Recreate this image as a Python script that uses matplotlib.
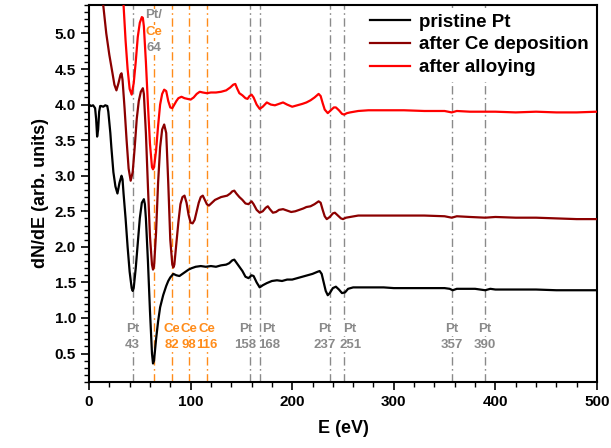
import matplotlib
matplotlib.use("Agg")
import matplotlib.pyplot as plt
from matplotlib.ticker import MultipleLocator, FormatStrFormatter
import matplotlib.transforms as mtransforms

plt.rcParams['font.family'] = ['Liberation Sans', 'DejaVu Sans']
plt.rcParams['font.weight'] = 'bold'

# ---------------- data ----------------
pristine_E = [0, 2, 4, 6, 7, 8, 9, 10, 11, 12, 14, 16, 18, 19, 20, 21, 22, 24, 26, 28, 30, 32, 33, 34, 36,
              38, 40, 42, 43, 44, 46, 48, 50, 52, 54, 55, 56, 58, 60, 62, 63, 64, 66, 68, 70, 73, 76, 78,
              80, 83, 86, 89, 92, 95, 98, 101, 105, 110, 115, 120, 125, 130, 135, 138, 141, 143, 145, 148,
              151, 154, 157, 160, 162, 165, 168, 171, 175, 180, 185, 190, 195, 200, 205, 210, 215, 220,
              225, 227, 229, 231, 233, 235, 237, 240, 243, 246, 249, 252, 255, 260, 270, 280, 290, 300,
              320, 340, 350, 355, 358, 362, 370, 380, 390, 395, 400, 420, 440, 460, 480, 500]
pristine_I = [4.0, 3.98, 3.99, 3.95, 3.8, 3.55, 3.65, 3.9, 3.98, 3.98, 3.97, 3.99, 3.98, 3.9, 3.75, 3.6,
              3.4, 3.05, 2.85, 2.75, 2.9, 3.0, 2.95, 2.75, 2.4, 2.0, 1.65, 1.42, 1.38, 1.42, 1.7, 2.05,
              2.4, 2.62, 2.67, 2.6, 2.4, 1.8, 1.1, 0.5, 0.36, 0.4, 0.7, 0.95, 1.15, 1.32, 1.45, 1.52,
              1.57, 1.62, 1.6, 1.59, 1.62, 1.65, 1.68, 1.7, 1.72, 1.73, 1.72, 1.73, 1.72, 1.74, 1.75,
              1.77, 1.81, 1.82, 1.78, 1.72, 1.66, 1.58, 1.56, 1.6, 1.59, 1.5, 1.43, 1.46, 1.49, 1.52,
              1.53, 1.52, 1.54, 1.54, 1.56, 1.58, 1.6, 1.62, 1.65, 1.66, 1.62, 1.5, 1.38, 1.32, 1.35,
              1.42, 1.44, 1.4, 1.35, 1.36, 1.41, 1.43, 1.43, 1.43, 1.43, 1.42, 1.42, 1.42, 1.42, 1.41,
              1.39, 1.41, 1.41, 1.41, 1.39, 1.41, 1.40, 1.40, 1.40, 1.39, 1.39, 1.39]

ce_dep_E = [8, 12, 14, 17, 20, 23, 25, 27, 29, 31, 32, 33, 35, 37, 39, 41, 43, 45, 47, 49, 51, 53, 54, 56,
            58, 60, 62, 63, 64, 66, 68, 70, 72, 74, 76, 78, 80, 82, 83, 84, 86, 88, 90, 92, 94, 96, 98,
            100, 102, 104, 106, 108, 110, 112, 114, 116, 118, 121, 124, 127, 130, 133, 136, 139, 141,
            143, 145, 148, 151, 154, 157, 160, 162, 165, 168, 171, 174, 176, 178, 181, 184, 187, 191,
            195, 199, 203, 207, 211, 214, 218, 222, 226, 228, 230, 232, 234, 237, 240, 242, 245, 248,
            250, 253, 257, 265, 275, 290, 310, 330, 350, 357, 362, 375, 390, 400, 420, 440, 460, 480, 500]
ce_dep_I = [6.2, 5.7, 5.4, 5.0, 4.7, 4.45, 4.28, 4.2, 4.3, 4.42, 4.44, 4.35, 3.95, 3.5, 3.1, 2.93, 3.05,
            3.4, 3.8, 4.05, 4.18, 4.23, 4.15, 3.6, 2.85, 2.15, 1.75, 1.68, 1.72, 2.2, 2.9, 3.4, 3.65,
            3.72, 3.6, 2.9, 2.1, 1.75, 1.71, 1.75, 2.05, 2.35, 2.6, 2.7, 2.72, 2.62, 2.45, 2.34, 2.33,
            2.38, 2.5, 2.62, 2.7, 2.72, 2.66, 2.6, 2.58, 2.62, 2.66, 2.68, 2.7, 2.71, 2.72, 2.75, 2.78,
            2.79, 2.75, 2.7, 2.66, 2.61, 2.6, 2.64, 2.6, 2.52, 2.48, 2.5, 2.55, 2.57, 2.53, 2.48, 2.49,
            2.52, 2.53, 2.51, 2.49, 2.5, 2.52, 2.54, 2.56, 2.57, 2.6, 2.64, 2.62, 2.52, 2.43, 2.39,
            2.42, 2.47, 2.48, 2.44, 2.4, 2.39, 2.41, 2.42, 2.44, 2.44, 2.44, 2.44, 2.44, 2.43, 2.41,
            2.43, 2.42, 2.41, 2.42, 2.41, 2.41, 2.40, 2.39, 2.39]

alloy_E = [28, 32, 34, 36, 38, 40, 42, 44, 46, 48, 50, 52, 53, 54, 56, 58, 60, 62, 63, 64, 66, 68, 70, 72,
           74, 76, 78, 80, 82, 84, 86, 88, 91, 94, 97, 100, 103, 106, 109, 112, 116, 120, 125, 130, 135,
           139, 142, 144, 146, 148, 151, 154, 156, 158, 160, 162, 165, 168, 171, 175, 179, 183, 187,
           191, 195, 200, 205, 210, 214, 218, 222, 226, 228, 230, 232, 235, 238, 241, 243, 246, 249,
           251, 254, 257, 265, 275, 290, 310, 330, 350, 357, 362, 375, 390, 400, 420, 440, 460, 480, 500]
alloy_I = [6.5, 5.8, 5.4, 4.9, 4.5, 4.22, 4.14, 4.3, 4.6, 4.95, 5.15, 5.23, 5.22, 5.1, 4.6, 4.0, 3.45,
           3.12, 3.09, 3.12, 3.35, 3.7, 4.0, 4.15, 4.21, 4.19, 4.05, 3.96, 3.95, 4.0, 4.05, 4.09, 4.11,
           4.09, 4.08, 4.07, 4.1, 4.15, 4.18, 4.17, 4.16, 4.17, 4.17, 4.18, 4.2, 4.24, 4.28, 4.29,
           4.22, 4.16, 4.13, 4.09, 4.08, 4.12, 4.14, 4.1, 4.0, 3.94, 3.97, 4.03, 4.0, 3.99, 4.01, 4.03,
           4.0, 3.97, 3.99, 4.01, 4.03, 4.06, 4.1, 4.15, 4.12, 4.02, 3.93, 3.88, 3.92, 3.96, 3.96,
           3.92, 3.87, 3.86, 3.88, 3.89, 3.91, 3.92, 3.92, 3.92, 3.91, 3.91, 3.89, 3.91, 3.9, 3.9,
           3.9, 3.89, 3.9, 3.89, 3.89, 3.9]

series_labels = ["pristine Pt", "after Ce deposition", "after alloying"]
series_colors = ["#000000", "#8B0000", "#FF0000"]

pt_lines = [43, 158, 168, 237, 251, 357, 390]
pt_label_x = [43, 154, 177, 232, 257, 357, 390]
ce_lines = [82, 98, 116]
ptce_line = 64

# ---------------- figure ----------------
fig = plt.figure(figsize=(6.11, 4.48), dpi=100)
ax = fig.add_axes([89 / 611, 1 - 382 / 448, (597 - 89) / 611, (382 - 5) / 448])

GRAY = "#8a8a8a"
ORANGE = "#FF8C1A"
dash = (0, (6, 2.5, 1.2, 2.5))

for e in pt_lines:
    ax.axvline(e, color=GRAY, lw=1.0, ls=dash, zorder=1)
for e in ce_lines:
    ax.axvline(e, color=ORANGE, lw=1.0, ls=dash, zorder=1)
ax.axvline(ptce_line, color=ORANGE, lw=1.0, ls=dash, zorder=1)

trans = mtransforms.blended_transform_factory(ax.transData, ax.transAxes)
bb = dict(boxstyle="square,pad=0.05", fc="white", ec="none")
FS = 9.5
for e, lx in zip(pt_lines, pt_label_x):
    ax.text(lx, 0.140, "Pt", transform=trans, ha="center", va="center", color=GRAY,
            fontsize=FS, fontweight="bold", bbox=bb, zorder=2)
    ax.text(lx, 0.097, str(e), transform=trans, ha="center", va="center", color=GRAY,
            fontsize=FS, fontweight="bold", bbox=bb, zorder=2)
for e in ce_lines:
    ax.text(e, 0.140, "Ce", transform=trans, ha="center", va="center", color=ORANGE,
            fontsize=FS, fontweight="bold", bbox=bb, zorder=2)
    ax.text(e, 0.097, str(e), transform=trans, ha="center", va="center", color=ORANGE,
            fontsize=FS, fontweight="bold", bbox=bb, zorder=2)
ax.text(ptce_line, 0.973, "Pt/", transform=trans, ha="center", va="center", color=GRAY,
        fontsize=FS, fontweight="bold", bbox=bb, zorder=2)
ax.text(ptce_line, 0.929, "Ce", transform=trans, ha="center", va="center", color=ORANGE,
        fontsize=FS, fontweight="bold", bbox=bb, zorder=2)
ax.text(ptce_line, 0.886, str(ptce_line), transform=trans, ha="center", va="center", color=GRAY,
        fontsize=FS, fontweight="bold", bbox=bb, zorder=2)

for E, I, lab, col in zip([pristine_E, ce_dep_E, alloy_E], [pristine_I, ce_dep_I, alloy_I],
                          series_labels, series_colors):
    ax.plot(E, I, color=col, lw=1.6, label=lab, zorder=3)

ax.set_xlim(0, 500)
ax.set_ylim(0.1, 5.4)
ax.xaxis.set_major_locator(MultipleLocator(100))
ax.xaxis.set_minor_locator(MultipleLocator(20))
ax.set_yticks([0.5, 1.0, 1.5, 2.0, 2.5, 3.0, 3.5, 4.0, 4.5, 5.0])
ax.yaxis.set_minor_locator(MultipleLocator(0.1))
ax.yaxis.set_major_formatter(FormatStrFormatter('%.1f'))
ax.tick_params(which='major', direction='out', length=6, width=1.2, labelsize=11)
ax.tick_params(which='minor', direction='out', length=3.5, width=1.0)
for lbl in ax.get_xticklabels() + ax.get_yticklabels():
    lbl.set_fontweight('bold')
for s in ax.spines.values():
    s.set_linewidth(1.5)

ax.set_xlabel("E (eV)", fontsize=13, fontweight='bold', labelpad=8)
ax.set_ylabel("dN/dE (arb. units)", fontsize=13, fontweight='bold', labelpad=4)

leg = ax.legend(loc="upper right", handlelength=2.1, handletextpad=0.5,
                labelspacing=0.3, borderaxespad=0.15, borderpad=0.3, frameon=True, fancybox=False,
                prop={'weight': 'bold', 'size': 13.5})
leg.get_frame().set_facecolor('white')
leg.get_frame().set_edgecolor('none')
leg.get_frame().set_alpha(1.0)
for line in leg.get_lines():
    line.set_linewidth(1.6)
leg.set_zorder(5)

fig.savefig("out.png", dpi=100)
